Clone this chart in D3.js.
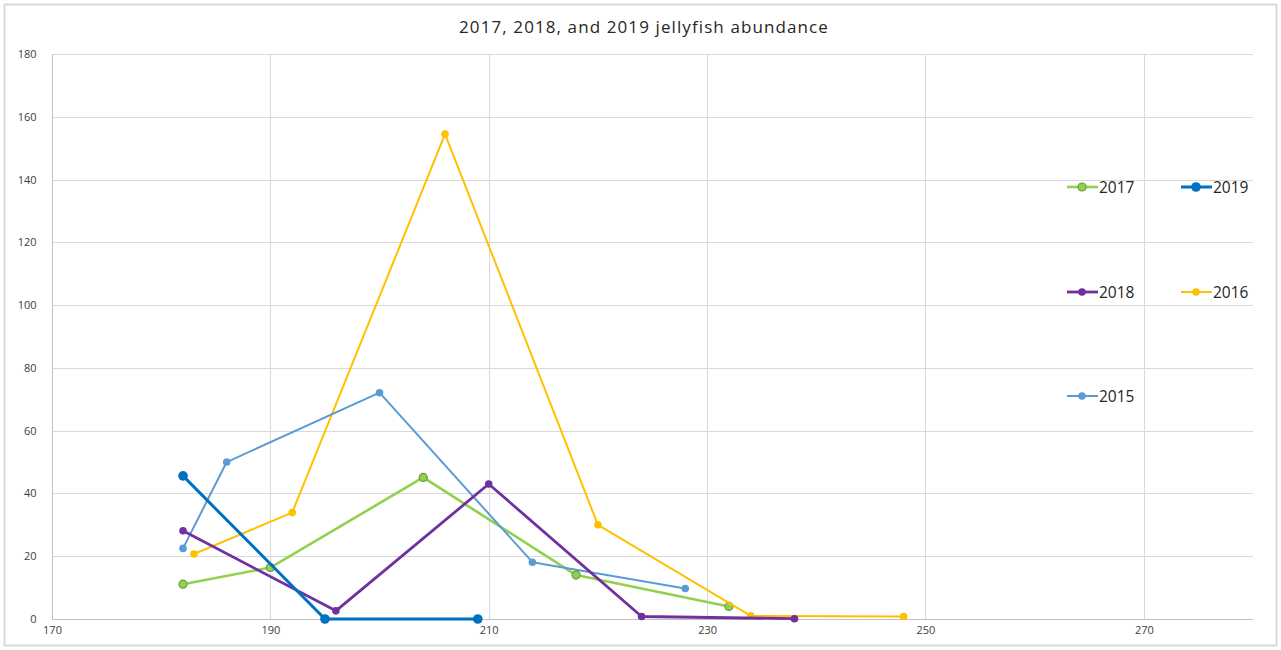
<!DOCTYPE html>
<html>
<head>
<meta charset="utf-8">
<script src="https://cdn.jsdelivr.net/npm/d3@7"></script>
<style>
  html, body { margin: 0; padding: 0; background: #fff; }
  svg { display: block; font-family: "Open Sans", "Liberation Sans", sans-serif; }
</style>
</head>
<body>
<svg id="chart" width="1281" height="650"></svg>
<script>
// Day of year for each sampling date, with jellyfish counts per series
const x2017 = [182, 190, 204, 218, 232];
const y2017 = [11.1, 16.4, 45.1, 14.0, 4.0];

const x2018 = [182, 196, 210, 224, 238];
const y2018 = [28.1, 2.6, 43.0, 0.8, 0.1];

const x2019 = [182, 195, 209];
const y2019 = [45.6, 0, 0];

const x2016 = [183, 192, 206, 220, 234, 248];
const y2016 = [20.7, 33.9, 154.5, 30.0, 1.0, 0.8];

const x2015 = [182, 186, 200, 214, 228];
const y2015 = [22.5, 50.0, 72.1, 18.1, 9.7];

const xTicks = [170, 190, 210, 230, 250, 270];
const yTicks = [0, 20, 40, 60, 80, 100, 120, 140, 160, 180];

const titleText = "2017, 2018, and 2019 jellyfish abundance";

const series = [
  { name: "2017", xs: x2017, ys: y2017, color: "#92d050", width: 2.6, r: 4, stroke: "#6a9a3a" },
  { name: "2016", xs: x2016, ys: y2016, color: "#ffc000", width: 2, r: 3.8, stroke: null },
  { name: "2015", xs: x2015, ys: y2015, color: "#5b9bd5", width: 2, r: 3.8, stroke: null },
  { name: "2018", xs: x2018, ys: y2018, color: "#7030a0", width: 2.8, r: 3.8, stroke: null },
  { name: "2019", xs: x2019, ys: y2019, color: "#0070c0", width: 3, r: 4.8, stroke: null }
];

// Legend layout: two columns, three rows
const legendItems = [
  { name: "2017", col: 0, row: 0 },
  { name: "2019", col: 1, row: 0 },
  { name: "2018", col: 0, row: 1 },
  { name: "2016", col: 1, row: 1 },
  { name: "2015", col: 0, row: 2 }
];

const svg = d3.select("#chart");
const W = 1281, H = 650;

// outer chart frame
svg.append("rect")
  .attr("x", 4.5).attr("y", 4.5)
  .attr("width", W - 9).attr("height", H - 9)
  .attr("fill", "#fff").attr("stroke", "#d9d9d9").attr("stroke-width", 2);

const plot = { left: 52, right: 1253, top: 54, bottom: 619 };

const x = d3.scaleLinear().domain([170, 280]).range([plot.left, plot.right]);
const y = d3.scaleLinear().domain([0, 180]).range([plot.bottom, plot.top]);

// gridlines
const grid = svg.append("g");
grid.selectAll("line.h").data(yTicks.filter(d => d > 0)).join("line")
  .attr("x1", plot.left).attr("x2", plot.right)
  .attr("y1", d => Math.round(y(d)) + 0.5).attr("y2", d => Math.round(y(d)) + 0.5)
  .attr("stroke", "#d9d9d9").attr("stroke-width", 1);
grid.selectAll("line.v").data(xTicks.filter(d => d > 170)).join("line")
  .attr("y1", plot.top).attr("y2", plot.bottom)
  .attr("x1", d => Math.round(x(d)) + 0.5).attr("x2", d => Math.round(x(d)) + 0.5)
  .attr("stroke", "#d9d9d9").attr("stroke-width", 1);

// axes
const xAxis = svg.append("g")
  .attr("transform", `translate(0,${plot.bottom + 0.5})`)
  .call(d3.axisBottom(x).tickValues(xTicks).tickSize(0).tickPadding(7));
const yAxis = svg.append("g")
  .attr("transform", `translate(${plot.left + 0.5},0)`)
  .call(d3.axisLeft(y).tickValues(yTicks).tickSize(0).tickPadding(16));
[xAxis, yAxis].forEach(a => {
  a.select(".domain").attr("stroke", "#bfbfbf").attr("stroke-width", 1);
  a.selectAll("text").attr("fill", "#404040").style("font-size", "11px")
    .style("font-family", "'Open Sans', 'Liberation Sans', sans-serif");
});
xAxis.select(".domain").attr("d", `M${plot.left},0H${plot.right}`);
yAxis.select(".domain").attr("d", `M0,${plot.top}V${plot.bottom}`);

// title
svg.append("text")
  .attr("x", 644).attr("y", 33)
  .attr("text-anchor", "middle")
  .attr("fill", "#262626")
  .style("font-size", "17px")
  .style("letter-spacing", "1.1px")
  .text(titleText);

// series lines and markers
const line = d3.line().x(d => x(d[0])).y(d => y(d[1]));
series.forEach(s => {
  const pts = s.xs.map((v, i) => [v, s.ys[i]]);
  const g = svg.append("g");
  g.append("path").datum(pts)
    .attr("d", line)
    .attr("fill", "none")
    .attr("stroke", s.color)
    .attr("stroke-width", s.width)
    .attr("stroke-linejoin", "round");
  g.selectAll("circle").data(pts).join("circle")
    .attr("cx", d => x(d[0])).attr("cy", d => y(d[1]))
    .attr("r", s.r)
    .attr("fill", s.color)
    .attr("stroke", s.stroke || "none")
    .attr("stroke-width", s.stroke ? 1.2 : 0);
});

// legend
const colX = [1067, 1181];
const rowY = [187, 292, 396];
const legend = svg.append("g");
legendItems.forEach(it => {
  const s = series.find(d => d.name === it.name);
  const lx = colX[it.col], ly = rowY[it.row];
  legend.append("line")
    .attr("x1", lx).attr("x2", lx + 31)
    .attr("y1", ly).attr("y2", ly)
    .attr("stroke", s.color).attr("stroke-width", s.width);
  legend.append("circle")
    .attr("cx", lx + 15).attr("cy", ly).attr("r", s.r)
    .attr("fill", s.color)
    .attr("stroke", s.stroke || "none")
    .attr("stroke-width", s.stroke ? 1.2 : 0);
  legend.append("text")
    .attr("x", lx + 32).attr("y", ly + 5.5)
    .attr("fill", "#262626")
    .style("font-size", "15.5px")
    .text(s.name);
});
</script>
</body>
</html>
